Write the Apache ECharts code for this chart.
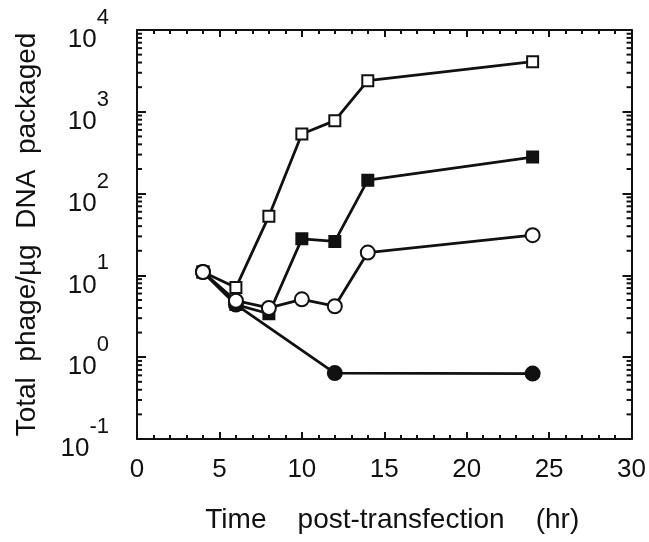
<!DOCTYPE HTML>
<html>
<head>
    <meta http-equiv="content-type" content="text/html;charset=utf-8">
    <script src="https://cdn.jsdelivr.net/npm/echarts@6/dist/echarts.min.js"></script>
    <title>Total phage packaged</title>
    <style>
        html, body { margin: 0; padding: 0; background: #fff; }
        #main { width: 649px; height: 542px; }
    </style>
</head>
<body>
    <div id="main"></div>
    <script>
        // (log scale values)
        var time = [4, 6, 8, 10, 12, 14, 24];
        var openSquare = [11, 7.1, 53, 535, 780, 2400, 4100];
        var filledSquare = [11, 4.4, 3.4, 28, 26, 146, 280];
        var openCircle = [11, 4.9, 4.0, 5.1, 4.2, 19, 31];
        var filledCircleTime = [4, 6, 12, 24];
        var filledCircle = [11, 4.4, 0.64, 0.63];

        var xTicks = [0, 5, 10, 15, 20, 25, 30];
        var yDecades = [-1, 0, 1, 2, 3, 4];

        var font = '"Liberation Sans", Arial, sans-serif';
        var ink = '#111';

        function pairs(xs, ys) {
            var out = [];
            for (var i = 0; i < xs.length; i++) out.push([xs[i], ys[i]]);
            return out;
        }

        // log minor ticks 2..9 inside each decade
        var minorVals = [];
        for (var k = 0; k < yDecades.length - 1; k++) {
            for (var m = 2; m <= 9; m++) minorVals.push([0, m * Math.pow(10, yDecades[k])]);
        }

        function lineSeries(name, data, symbol, size, fill) {
            return {
                name: name,
                type: 'line',
                data: data,
                symbol: symbol,
                symbolSize: size,
                showAllSymbol: true,
                lineStyle: { color: ink, width: 2.8 },
                itemStyle: { color: fill, borderColor: ink, borderWidth: 2 },
                z: 3
            };
        }

        function xAxisAt(pos, showLabels) {
            var ax = {
                type: 'value',
                position: pos,
                min: xTicks[0],
                max: xTicks[xTicks.length - 1],
                interval: 5,
                axisLine: { onZero: false, lineStyle: { color: ink, width: 2 } },
                axisTick: { inside: true, length: 7, lineStyle: { color: ink, width: 2 } },
                minorTick: { show: true, splitNumber: 5, length: 4, lineStyle: { color: ink, width: 2 } },
                splitLine: { show: false },
                axisLabel: { show: showLabels, color: ink, fontFamily: font, fontSize: 26, margin: 18 }
            };
            if (showLabels) {
                ax.name = 'Time    post-transfection    (hr)';
                ax.nameLocation = 'middle';
                ax.nameGap = 67;
                ax.nameTextStyle = { color: ink, fontFamily: font, fontSize: 28, padding: [0, 0, 0, 16] };
            }
            return ax;
        }

        function yAxisAt(pos, showLabels) {
            var ax = {
                type: 'log',
                logBase: 10,
                position: pos,
                min: Math.pow(10, yDecades[0]),
                max: Math.pow(10, yDecades[yDecades.length - 1]),
                axisLine: { onZero: false, lineStyle: { color: ink, width: 2 } },
                axisTick: { inside: true, length: 9, lineStyle: { color: ink, width: 2 } },
                splitLine: { show: false },
                axisLabel: {
                    show: showLabels,
                    margin: 28,
                    formatter: function (v) {
                        var e = Math.round(Math.log(v) / Math.LN10);
                        return '{h| }{b|10}{s|' + e + '}';
                    },
                    rich: {
                        h: { fontSize: 2, lineHeight: 46 },
                        b: { color: ink, fontFamily: font, fontSize: 26, verticalAlign: 'bottom' },
                        s: { color: ink, fontFamily: font, fontSize: 22, verticalAlign: 'top' }
                    }
                }
            };
            if (showLabels) {
                ax.name = 'Total  phage/µg  DNA  packaged';
                ax.nameLocation = 'middle';
                ax.nameGap = 96;
                ax.nameTextStyle = { color: ink, fontFamily: font, fontSize: 28 };
            }
            return ax;
        }

        var myChart = echarts.init(document.getElementById('main'));
        var option = {
            animation: false,
            backgroundColor: '#fff',
            grid: { left: 137, right: 17, top: 30, bottom: 103 },
            xAxis: [xAxisAt('bottom', true), xAxisAt('top', false)],
            yAxis: [yAxisAt('left', true), yAxisAt('right', false)],
            series: [
                {
                    type: 'custom',
                    silent: true,
                    data: minorVals,
                    z: 1,
                    renderItem: function (params, api) {
                        var v = api.value(1);
                        var l = api.coord([xTicks[0], v]);
                        var r = api.coord([xTicks[xTicks.length - 1], v]);
                        var st = { stroke: ink, lineWidth: 2 };
                        return {
                            type: 'group',
                            children: [
                                { type: 'line', shape: { x1: l[0], y1: l[1], x2: l[0] + 5, y2: l[1] }, style: st },
                                { type: 'line', shape: { x1: r[0], y1: r[1], x2: r[0] - 5, y2: r[1] }, style: st }
                            ]
                        };
                    }
                },
                lineSeries('filled circle', pairs(filledCircleTime, filledCircle), 'circle', 14, ink),
                lineSeries('filled square', pairs(time, filledSquare), 'rect', 11, ink),
                lineSeries('open square', pairs(time, openSquare), 'rect', 11, '#fff'),
                lineSeries('open circle', pairs(time, openCircle), 'circle', 14, '#fff')
            ]
        };
        myChart.setOption(option);
    </script>
</body>
</html>
